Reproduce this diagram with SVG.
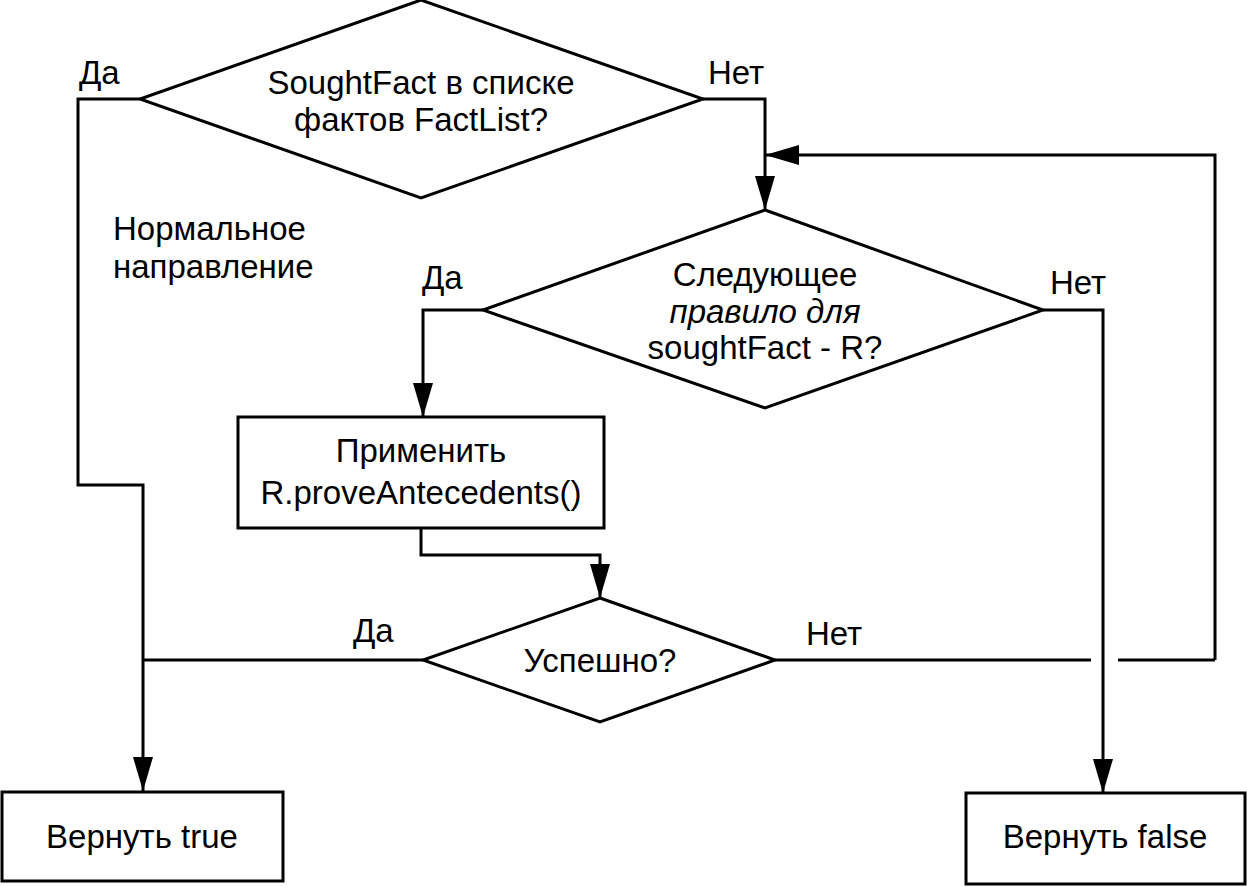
<svg xmlns="http://www.w3.org/2000/svg" width="1247" height="887" viewBox="0 0 1247 887">
<style>
.s{fill:none;stroke:#000;stroke-width:3}
.n{fill:#fff;stroke:#000;stroke-width:3}
text{font-family:"Liberation Sans",Arial,sans-serif;font-size:33px;fill:#000}
.c{text-anchor:middle}
</style>
<defs>
<marker id="a" markerUnits="userSpaceOnUse" markerWidth="34" markerHeight="20" refX="34" refY="10" viewBox="0 0 34 20" orient="auto">
<path d="M0,0 L34,10 L0,20 Z" fill="#000"/>
</marker>
</defs>
<rect width="1247" height="887" fill="#fff"/>
<g id="connectors">
<polyline class="s" points="140,99 78,99 78,485 143,485 143,791" marker-end="url(#a)"/>
<polyline class="s" points="703,99 765,99 765,210" marker-end="url(#a)"/>
<polyline class="s" points="1215,660 1215,155 765,155" marker-end="url(#a)"/>
<line class="s" x1="1118" y1="660" x2="1215" y2="660"/>
<line class="s" x1="775" y1="660" x2="1091" y2="660"/>
<polyline class="s" points="483,310 423,310 423,417" marker-end="url(#a)"/>
<polyline class="s" points="1043,310 1103,310 1103,793" marker-end="url(#a)"/>
<polyline class="s" points="421,528 421,555 600,555 600,598" marker-end="url(#a)"/>
<line class="s" x1="423" y1="660" x2="143" y2="660"/>
</g>
<g id="d1">
<polygon class="n" points="421,0 703,99 421,198 140,99"/>
<text class="c" x="421" y="94">SoughtFact в списке</text>
<text class="c" x="421" y="131">фактов FactList?</text>
</g>
<g id="d2">
<polygon class="n" points="765,210 1043,310 765,408 483,310"/>
<text class="c" x="765" y="286">Следующее</text>
<text class="c" x="765" y="323" font-style="italic">правило для</text>
<text class="c" x="765" y="359">soughtFact - R?</text>
</g>
<g id="b1">
<rect class="n" x="238" y="417" width="366" height="111"/>
<text class="c" x="421" y="462">Применить</text>
<text class="c" x="421" y="504">R.proveAntecedents()</text>
</g>
<g id="d3">
<polygon class="n" points="600,598 775,660 600,722 423,660"/>
<text class="c" x="600" y="672">Успешно?</text>
</g>
<g id="b2">
<rect class="n" x="2" y="792" width="281" height="89"/>
<text class="c" x="142" y="848">Вернуть true</text>
</g>
<g id="b3">
<rect class="n" x="966" y="793" width="279" height="91"/>
<text class="c" x="1105" y="848">Вернуть false</text>
</g>
<g id="labels">
<text x="79" y="84">Да</text>
<text x="708" y="84">Нет</text>
<text x="113" y="240">Нормальное</text>
<text x="113" y="278">направление</text>
<text x="422" y="289">Да</text>
<text x="1050" y="294">Нет</text>
<text x="353" y="642">Да</text>
<text x="806" y="645">Нет</text>
</g>
</svg>
